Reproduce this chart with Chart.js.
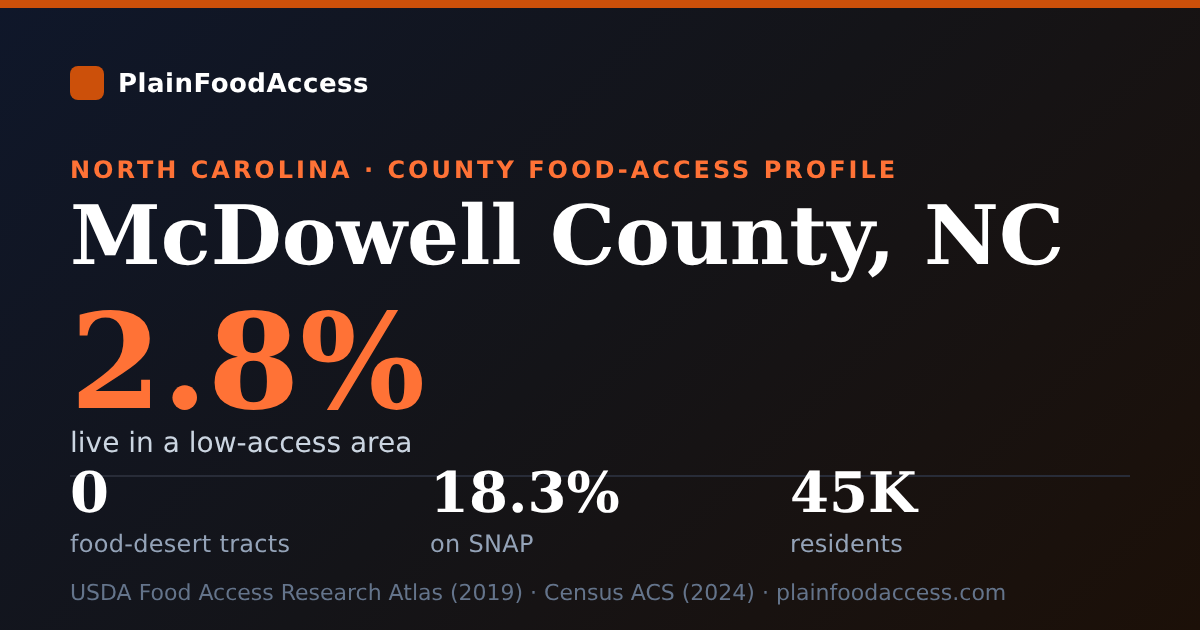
<!DOCTYPE html>
<html>
<head>
<meta charset="utf-8">
<title>McDowell County, NC</title>
<script src="https://cdn.jsdelivr.net/npm/chart.js@4"></script>
<style>
  * { margin: 0; padding: 0; box-sizing: border-box; }
  html, body { width: 1200px; height: 630px; overflow: hidden; background: #111; }
  #card {
    position: relative; width: 1200px; height: 630px; overflow: hidden;
    background: linear-gradient(135deg, #0f172a 0%, #141418 50%, #1c1008 100%);
    font-family: "DejaVu Sans", sans-serif;
    text-rendering: geometricPrecision;
  }
  #topbar { position: absolute; left: 0; top: 0; width: 1200px; height: 8px; background: #cc500a; }
  #logo { position: absolute; left: 70px; top: 66px; width: 34px; height: 34px; border-radius: 8px; background: #cc500a; }
  .t { position: absolute; white-space: nowrap; will-change: transform; }
  #brand { left: 118px; top: 68px; font-size: 26px; line-height: 32px; font-weight: 700; color: #fff; letter-spacing: 0.5px; }
  #kicker { left: 70px; top: 155px; font-size: 24px; line-height: 30px; font-weight: 700; color: #ff7236; letter-spacing: 3px; }
  #title { left: 70px; top: 190px; font-family: "DejaVu Serif", serif; font-size: 82px; line-height: 92px; font-weight: 700; color: #fff; }
  #big { left: 70px; top: 303px; font-family: "DejaVu Serif", serif; font-size: 132px; line-height: 120px; font-weight: 700; color: #ff7236; }
  #sub { left: 70px; top: 426px; font-size: 28px; line-height: 34px; color: #cbd5e1; }
  .val { top: 460px; font-family: "DejaVu Serif", serif; font-size: 56px; line-height: 66px; font-weight: 700; color: #fff; }
  .lab { top: 528px; font-size: 24px; line-height: 32px; color: #94a3b8; letter-spacing: 0.3px; }
  #foot { left: 70px; top: 579px; font-size: 22px; line-height: 30px; color: #64748b; }
  #rule { position: absolute; left: 70px; top: 470px; width: 1060px; height: 12px; }
</style>
</head>
<body>
<div id="card">
  <div id="topbar"></div>
  <div id="logo"></div>
  <div class="t" id="brand"></div>
  <div class="t" id="kicker"></div>
  <div class="t" id="title"></div>
  <div class="t" id="big"></div>
  <div class="t" id="sub"></div>
  <div id="rule"><canvas id="ruleChart"></canvas></div>
  <div id="stats"></div>
  <div class="t" id="foot"></div>
</div>
<script>
var brand = 'PlainFoodAccess';
var kicker = 'NORTH CAROLINA · COUNTY FOOD-ACCESS PROFILE';
var county = 'McDowell County, NC';
var headline = '2.8%';
var headlineLabel = 'live in a low-access area';
var statValues = ['0', '18.3%', '45K'];
var statLabels = ['food-desert tracts', 'on SNAP', 'residents'];
var statLefts = [70, 430, 790];
var source = 'USDA Food Access Research Atlas (2019) · Census ACS (2024) · plainfoodaccess.com';

// divider under the headline, drawn as a flat two point line
var ruleLabels = ['start', 'end'];
var ruleValues = [0, 0];

document.getElementById('brand').textContent = brand;
document.getElementById('kicker').textContent = kicker;
document.getElementById('title').textContent = county;
document.getElementById('big').textContent = headline;
document.getElementById('sub').textContent = headlineLabel;
document.getElementById('foot').textContent = source;

var stats = document.getElementById('stats');
statValues.forEach(function (value, i) {
  var v = document.createElement('div');
  v.className = 't val';
  v.style.left = statLefts[i] + 'px';
  v.textContent = value;
  stats.appendChild(v);
  var l = document.createElement('div');
  l.className = 't lab';
  l.style.left = statLefts[i] + 'px';
  l.textContent = statLabels[i];
  stats.appendChild(l);
});

new Chart(document.getElementById('ruleChart').getContext('2d'), {
  type: 'line',
  data: {
    labels: ruleLabels,
    datasets: [{
      data: ruleValues,
      borderColor: '#282c38',
      borderWidth: 2,
      pointRadius: 0,
      fill: false
    }]
  },
  options: {
    animation: false,
    responsive: true,
    maintainAspectRatio: false,
    layout: { padding: 0 },
    plugins: { legend: { display: false }, title: { display: false }, tooltip: { enabled: false } },
    scales: {
      x: { display: false, offset: false },
      y: { display: false, min: -1, max: 1 }
    }
  }
});
</script>
</body>
</html>
